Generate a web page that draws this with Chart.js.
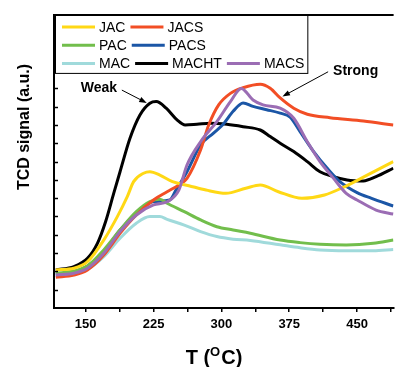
<!DOCTYPE html>
<html>
<head>
<meta charset="utf-8">
<title>TPD profiles</title>
<script src="https://cdn.jsdelivr.net/npm/chart.js@4.4.1/dist/chart.umd.min.js"></script>
<style>
    html, body { margin: 0; padding: 0; background: #fff; }
    canvas { display: block; }
</style>
</head>
<body>
<canvas id="tpd-chart" width="396" height="367"></canvas>
<script>
// Temperatures (°C) and TCD signal (a.u.), one pair of arrays per sample
const jacTemp = [117, 137, 152, 170, 185, 196, 203, 214, 221, 232, 246, 264, 283, 305, 327, 343, 363, 389, 414, 436, 458, 490];
const jacSignal = [2.08, 2.17, 2.53, 3.71, 4.99, 6.08, 6.90, 7.36, 7.44, 7.26, 6.90, 6.68, 6.44, 6.26, 6.54, 6.72, 6.35, 5.99, 6.17, 6.62, 7.17, 7.99];

const jacsTemp = [117, 137, 152, 170, 188, 206, 225, 240, 253, 262, 277, 286, 297, 310, 324, 343, 354, 365, 380, 395, 420, 457, 490];
const jacsSignal = [1.68, 1.80, 2.08, 2.89, 4.08, 5.08, 5.90, 6.35, 6.72, 7.08, 8.63, 9.99, 11.09, 11.72, 12.03, 12.22, 12.00, 11.47, 10.91, 10.58, 10.39, 10.21, 9.99];

const pacTemp = [117, 137, 152, 170, 188, 206, 221, 232, 240, 259, 277, 295, 313, 332, 365, 387, 409, 438, 468, 490];
const pacSignal = [1.90, 2.02, 2.29, 3.17, 4.26, 5.26, 5.81, 5.94, 5.72, 5.26, 4.81, 4.44, 4.26, 4.08, 3.71, 3.57, 3.48, 3.44, 3.53, 3.71];

const pacsTemp = [117, 137, 152, 170, 188, 206, 225, 243, 250, 262, 277, 291, 302, 313, 324, 335, 350, 365, 376, 387, 402, 417, 431, 450, 466, 490];
const pacsSignal = [1.86, 1.98, 2.29, 3.07, 4.26, 5.17, 5.81, 5.90, 6.45, 7.44, 8.90, 9.54, 10.03, 10.74, 11.20, 11.01, 10.83, 10.64, 10.42, 9.63, 8.54, 7.63, 6.90, 6.30, 5.99, 5.57];

const macTemp = [117, 137, 152, 170, 188, 206, 221, 232, 240, 259, 277, 295, 313, 332, 365, 387, 409, 438, 468, 490];
const macSignal = [1.75, 1.90, 2.11, 2.80, 3.81, 4.63, 4.99, 4.99, 4.84, 4.53, 4.17, 3.90, 3.76, 3.69, 3.45, 3.29, 3.17, 3.13, 3.13, 3.20];

const machtTemp = [117, 137, 152, 163, 172, 181, 188, 199, 210, 221, 228, 239, 251, 260, 273, 288, 306, 324, 343, 354, 365, 380, 395, 409, 424, 439, 457, 471, 490];
const machtSignal = [2.08, 2.26, 2.71, 3.53, 4.71, 6.26, 7.44, 9.27, 10.54, 11.18, 11.27, 10.91, 10.27, 9.99, 10.03, 10.09, 10.03, 9.90, 9.72, 9.36, 9.00, 8.54, 7.99, 7.44, 7.17, 6.99, 6.94, 7.17, 7.63];

const macsTemp = [117, 137, 152, 170, 188, 206, 225, 240, 253, 262, 277, 295, 310, 322, 335, 346, 365, 380, 395, 409, 424, 438, 450, 471, 490];
const macsSignal = [1.80, 1.90, 2.17, 2.99, 4.17, 5.08, 5.63, 5.80, 6.44, 7.81, 9.08, 10.18, 11.27, 11.99, 11.36, 11.09, 10.91, 10.36, 9.08, 7.99, 7.08, 6.26, 5.90, 5.35, 5.13];

const xMajorTicks = [150, 225, 300, 375, 450];
const xMinorTicks = [187.5, 262.5, 337.5, 412.5, 487.5];
const yTicks = [1, 2, 3, 4, 5, 6, 7, 8, 9, 10, 11, 12, 13, 14, 15];

const FONT = "'Liberation Sans', Arial, sans-serif";

const toPoints = (temps, vals) => temps.map((t, i) => ({ x: t, y: vals[i] }));

const series = [
    { label: 'JAC',   temps: jacTemp,   vals: jacSignal,   color: '#FFD815' },
    { label: 'JACS',  temps: jacsTemp,  vals: jacsSignal,  color: '#F24E25' },
    { label: 'PAC',   temps: pacTemp,   vals: pacSignal,   color: '#72BE4C' },
    { label: 'PACS',  temps: pacsTemp,  vals: pacsSignal,  color: '#1B56A6' },
    { label: 'MAC',   temps: macTemp,   vals: macSignal,   color: '#A0DADB' },
    { label: 'MACHT', temps: machtTemp, vals: machtSignal, color: '#000000' },
    { label: 'MACS',  temps: macsTemp,  vals: macsSignal,  color: '#9B6DB4' }
];

// legend rows as in the figure (3 rows, last one has three entries)
const legendRows = [['JAC', 'JACS'], ['PAC', 'PACS'], ['MAC', 'MACHT', 'MACS']];

// annotation anchors in data units
const notes = {
    weak:   { text: 'Weak',   x: 144.5, y: 11.82, tail: [190, 11.9],  tip: [217.5, 11.2] },
    strong: { text: 'Strong', x: 423.5, y: 12.72, tail: [418, 12.9],  tip: [367.5, 11.55] }
};

function arrow(ctx, x1, y1, x2, y2) {
    const ang = Math.atan2(y2 - y1, x2 - x1);
    ctx.beginPath();
    ctx.moveTo(x1, y1);
    ctx.lineTo(x2 - 5 * Math.cos(ang), y2 - 5 * Math.sin(ang));
    ctx.stroke();
    ctx.beginPath();
    ctx.moveTo(x2, y2);
    ctx.lineTo(x2 - 8 * Math.cos(ang - 0.35), y2 - 8 * Math.sin(ang - 0.35));
    ctx.lineTo(x2 - 8 * Math.cos(ang + 0.35), y2 - 8 * Math.sin(ang + 0.35));
    ctx.closePath();
    ctx.fill();
}

const decorations = {
    id: 'decorations',
    afterDraw(chart) {
        const { ctx, chartArea: area, scales: { x, y } } = chart;
        ctx.save();

        // top frame + inward y ticks
        ctx.strokeStyle = '#000';
        ctx.lineWidth = 2;
        ctx.beginPath();
        ctx.moveTo(area.left - 1, area.top);
        ctx.lineTo(area.right, area.top);
        ctx.stroke();
        ctx.lineWidth = 1.5;
        yTicks.forEach(v => {
            const py = Math.round(y.getPixelForValue(v)) + 0.5;
            ctx.beginPath();
            ctx.moveTo(area.left, py);
            ctx.lineTo(area.left + 4, py);
            ctx.stroke();
        });

        // legend box
        const boxL = area.left + 1, boxT = area.top, rowH = 18.3;
        ctx.font = `14px ${FONT}`;
        ctx.textBaseline = 'middle';
        let boxR = boxL;
        const rows = legendRows.map((row, r) => {
            let cx = boxL + 7;
            return row.map(name => {
                const s = series.find(d => d.label === name);
                const item = { s, x: cx, y: boxT + 12 + r * rowH };
                cx += 33 + 4 + ctx.measureText(name).width + 5;
                boxR = Math.max(boxR, cx - 2);
                return item;
            });
        });
        ctx.fillStyle = '#fff';
        ctx.fillRect(boxL, boxT, boxR - boxL, 3 * rowH + 3);
        ctx.lineWidth = 1;
        ctx.strokeStyle = '#000';
        ctx.strokeRect(boxL + 0.5, boxT + 0.5, boxR - boxL, 3 * rowH + 3);
        rows.flat().forEach(({ s, x: lx, y: ly }) => {
            ctx.strokeStyle = s.color;
            ctx.lineWidth = 3;
            ctx.beginPath();
            ctx.moveTo(lx, ly);
            ctx.lineTo(lx + 33, ly);
            ctx.stroke();
            ctx.fillStyle = '#000';
            ctx.fillText(s.label, lx + 37, ly + 1);
        });

        // Weak / Strong labels with arrows
        ctx.fillStyle = '#000';
        ctx.strokeStyle = '#000';
        ctx.lineWidth = 1;
        ctx.font = `bold 14px ${FONT}`;
        ctx.textBaseline = 'alphabetic';
        Object.values(notes).forEach(n => {
            ctx.fillText(n.text, x.getPixelForValue(n.x), y.getPixelForValue(n.y));
            arrow(ctx,
                x.getPixelForValue(n.tail[0]), y.getPixelForValue(n.tail[1]),
                x.getPixelForValue(n.tip[0]), y.getPixelForValue(n.tip[1]));
        });

        // axis titles
        ctx.font = `bold 16px ${FONT}`;
        ctx.textAlign = 'center';
        ctx.textBaseline = 'middle';
        ctx.save();
        ctx.translate(25, 127);
        ctx.rotate(-Math.PI / 2);
        ctx.fillText('TCD signal (a.u.)', 0, 0);
        ctx.restore();

        const big = `bold 20px ${FONT}`, small = `bold 13px ${FONT}`;
        ctx.textAlign = 'left';
        ctx.textBaseline = 'alphabetic';
        ctx.font = big;
        const w1 = ctx.measureText('T (').width, w3 = ctx.measureText('C)').width;
        ctx.font = small;
        const w2 = ctx.measureText('O').width + 1;
        let tx = 214 - (w1 + w2 + w3) / 2;
        const base = 364;
        ctx.font = big;
        ctx.fillText('T (', tx, base);
        ctx.font = small;
        ctx.fillText('O', tx + w1, base - 8);
        ctx.font = big;
        ctx.fillText('C)', tx + w1 + w2, base);

        ctx.restore();
    }
};

new Chart(document.getElementById('tpd-chart'), {
    type: 'line',
    data: {
        datasets: series.map((s, i) => ({
            label: s.label,
            data: toPoints(s.temps, s.vals),
            borderColor: s.color,
            backgroundColor: s.color,
            borderWidth: 3,
            pointRadius: 0,
            fill: false,
            cubicInterpolationMode: 'monotone',
            order: s.label === 'MACS' ? 0 : i + 1
        }))
    },
    options: {
        responsive: false,
        animation: false,
        events: [],
        layout: { padding: { top: 15, right: 0, bottom: 0, left: 0 } },
        plugins: { legend: { display: false }, tooltip: { enabled: false } },
        scales: {
            x: {
                type: 'linear',
                min: 115,
                max: 490.4,
                afterBuildTicks: scale => {
                    scale.ticks = [...xMajorTicks, ...xMinorTicks].sort((a, b) => a - b).map(v => ({ value: v }));
                },
                afterFit: scale => { scale.height = 59; },
                ticks: {
                    autoSkip: false,
                    maxRotation: 0,
                    padding: 5,
                    color: '#000',
                    font: { family: FONT, size: 13, weight: 'bold' },
                    callback: v => xMajorTicks.includes(v) ? String(v) : ''
                },
                grid: { drawOnChartArea: false, drawTicks: true, tickLength: 4, color: '#000', lineWidth: 1.5 },
                border: { display: true, color: '#000', width: 2 }
            },
            y: {
                min: 0,
                max: 16,
                afterFit: scale => { scale.width = 54; },
                ticks: { display: false, stepSize: 1 },
                grid: { display: false },
                border: { display: true, color: '#000', width: 2 }
            }
        }
    },
    plugins: [decorations]
});
</script>
</body>
</html>
